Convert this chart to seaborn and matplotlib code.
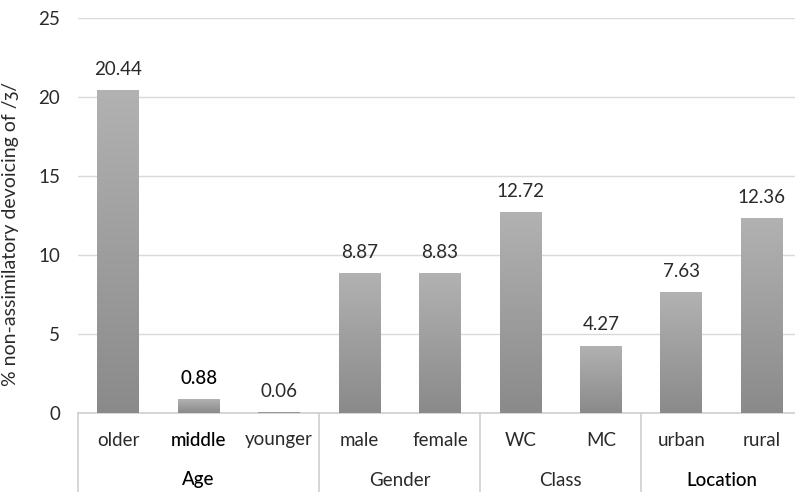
import numpy as np
import pandas as pd
import matplotlib
matplotlib.use('Agg')
import matplotlib.pyplot as plt
from matplotlib.colors import LinearSegmentedColormap
import seaborn as sns

# data
categories = ['older', 'middle', 'younger', 'male', 'female', 'WC', 'MC', 'urban', 'rural']
values = [20.44, 0.88, 0.06, 8.87, 8.83, 12.72, 4.27, 7.63, 12.36]
groups = ['Age', 'Gender', 'Class', 'Location']
group_sizes = [3, 2, 2, 2]
# texts that look darker in the reference
darker = {'middle', '0.88', 'Age', 'Location'}

df = pd.DataFrame({'category': categories, 'value': values})

sns.set_style('white')
plt.rcParams['font.family'] = ['Lato', 'DejaVu Sans']

fig = plt.figure(figsize=(7.95, 4.92), dpi=100)
# axes extends a little past the right edge, as in the reference
ax = fig.add_axes([78 / 795, (492 - 413) / 492, 724 / 795, 395 / 492])

sns.barplot(data=df, x='category', y='value', color='#a0a0a0', width=0.52,
            saturation=1, ax=ax, zorder=3)

# vertical gradient on each bar (light top, darker bottom)
cmap = LinearSegmentedColormap.from_list('g', ['#b2b2b2', '#8a8a8a'])
grad = np.linspace(0, 1, 256).reshape(-1, 1)
for p in ax.patches:
    x0, w, h = p.get_x(), p.get_width(), p.get_height()
    if h <= 0:
        continue
    im = ax.imshow(grad, cmap=cmap, extent=[x0, x0 + w, 0, h], aspect='auto',
                   origin='upper', zorder=4)
    im.set_clip_path(p)
    p.set_edgecolor('none')

fs = 13.5
base_col = '#2a2a2a'


def style(txt):
    if txt in darker:
        return dict(color='black', fontweight='medium')
    return dict(color=base_col)


# value labels
for i, v in enumerate(values):
    lab = f'{v:.2f}'
    ax.text(i, v + 1.3, lab, ha='center', va='center', fontsize=fs,
            zorder=5, **style(lab))

ax.set_ylim(0, 25)
ax.set_xlim(-0.5, len(categories) - 0.5)
ax.set_yticks([0, 5, 10, 15, 20, 25])
ax.tick_params(axis='y', labelsize=fs, length=0, pad=13, colors=base_col)
ax.yaxis.grid(True, color='#d9d9d9', linewidth=1, zorder=0)
ax.set_axisbelow(True)
ax.set_xticks([])
ax.set_xlabel('')
ax.set_ylabel('% non-assimilatory devoicing of /ʒ/', fontsize=14, color=base_col)
ax.yaxis.set_label_coords(-59 / 724, (413 - 234) / 395)
for s in ['left', 'right', 'top']:
    ax.spines[s].set_visible(False)
ax.spines['bottom'].set_color('#cfcfcf')
ax.spines['bottom'].set_linewidth(1.2)

# category and group labels below the axis
trans = ax.get_xaxis_transform()
bottom_frac = -(492 - 413) / 395
for i, c in enumerate(categories):
    ax.text(i, -(440 - 413) / 395, c, transform=trans, ha='center', va='center',
            fontsize=fs, clip_on=False, **style(c))

start = 0
edges = [-0.5]
for g, n in zip(groups, group_sizes):
    centre = start + (n - 1) / 2
    ax.text(centre, -(480 - 413) / 395, g, transform=trans, ha='center', va='center',
            fontsize=fs, clip_on=False, **style(g))
    start += n
    edges.append(start - 0.5)

for e in edges:
    ax.plot([e, e], [0, bottom_frac], transform=trans, color='#cfcfcf',
            linewidth=1.2, clip_on=False)

fig.savefig('out.png', dpi=100)
